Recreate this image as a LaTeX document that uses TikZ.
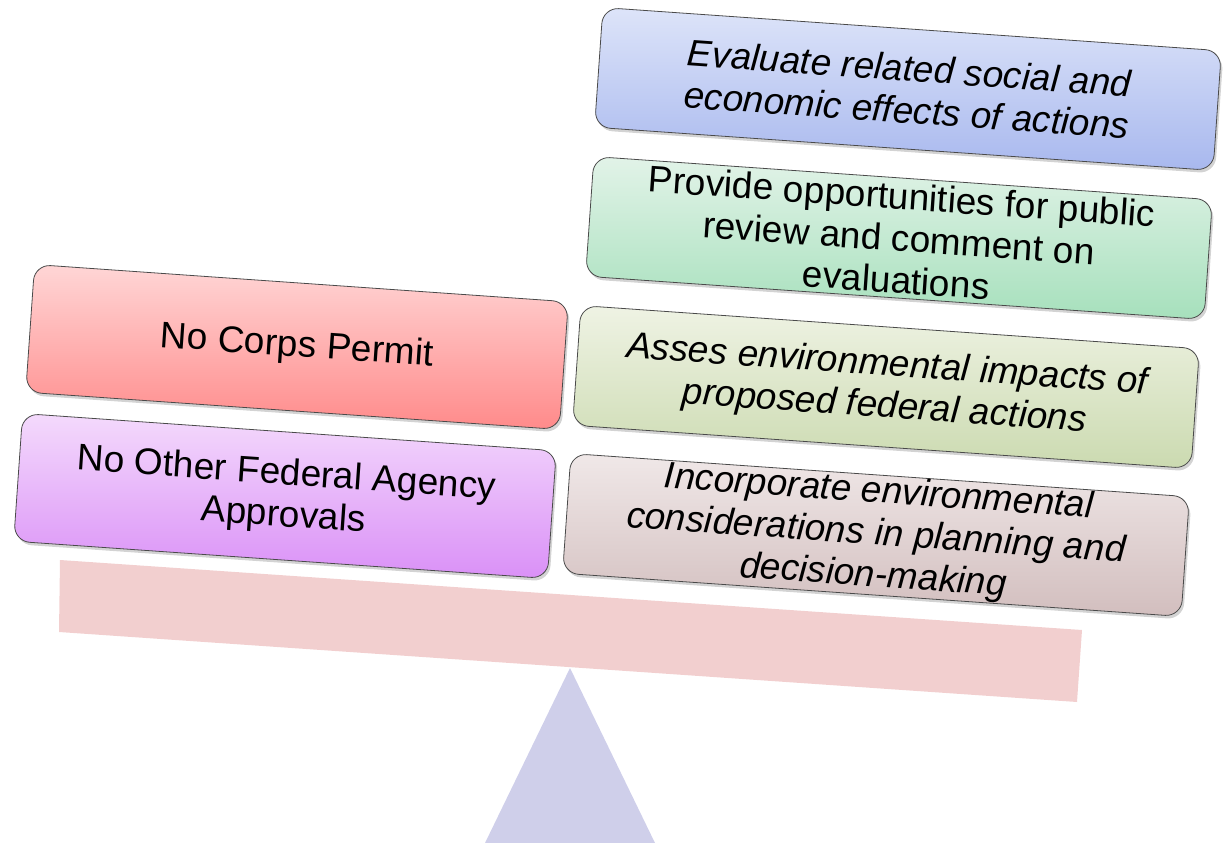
\documentclass[tikz,border=0pt]{standalone}
\usepackage{fontspec}
\setmainfont{Liberation Sans}
\usetikzlibrary{shadows}
\definecolor{barc}{HTML}{F2CFCF}
\definecolor{tric}{HTML}{CFCFEA}
\definecolor{edgec}{HTML}{4A4A4A}
\tikzset{
  card/.style={draw=edgec, line width=0.8pt, rounded corners=16pt, rectangle,
    rotate=-4, align=center, inner sep=0pt,
    font=\fontsize{37}{42}\selectfont,
    drop shadow={shadow xshift=2pt, shadow yshift=-3pt, opacity=0.35}},
  rightcard/.style={card, minimum width=620pt, minimum height=120pt},
  leftcard/.style={card, minimum width=535pt, minimum height=128pt},
}
\begin{document}
\begin{tikzpicture}[x=1pt,y=-1pt]
\useasboundingbox (0,0) rectangle (1229,843);
% balance bar and fulcrum
\path[fill=barc] (60,560) -- (1082,630) -- (1077,702) -- (59,632) -- cycle;
\path[fill=tric] (570,668) -- (655,843) -- (485,843) -- cycle;
% right cards
\node[rightcard, top color={rgb,255:red,221;green,228;blue,249}, bottom color={rgb,255:red,168;green,184;blue,238}]
  (eval) at (908,89) {\itshape Evaluate related social and\\\itshape economic effects of actions};
\node[rightcard, top color={rgb,255:red,226;green,243;blue,232}, bottom color={rgb,255:red,166;green,224;blue,188}]
  (prov) at (899,238) {Provide opportunities for public\\review and comment on\\evaluations};
\node[rightcard, top color={rgb,255:red,239;green,243;blue,228}, bottom color={rgb,255:red,203;green,218;blue,176}]
  (asse) at (886,387) {\itshape Asses environmental impacts of\\\itshape proposed federal actions};
\node[rightcard, top color={rgb,255:red,240;green,232;blue,232}, bottom color={rgb,255:red,210;green,190;blue,190}]
  (inco) at (876,535) {\itshape Incorporate environmental\\\itshape considerations in planning and\\\itshape decision-making};
% left cards
\node[leftcard, top color={rgb,255:red,255;green,214;blue,214}, bottom color={rgb,255:red,255;green,138;blue,138}]
  (corp) at (297,347) {No Corps Permit};
\node[leftcard, top color={rgb,255:red,244;green,218;blue,252}, bottom color={rgb,255:red,218;green,144;blue,247}]
  (fede) at (285,496) {No Other Federal Agency\\Approvals};
\end{tikzpicture}
\end{document}
